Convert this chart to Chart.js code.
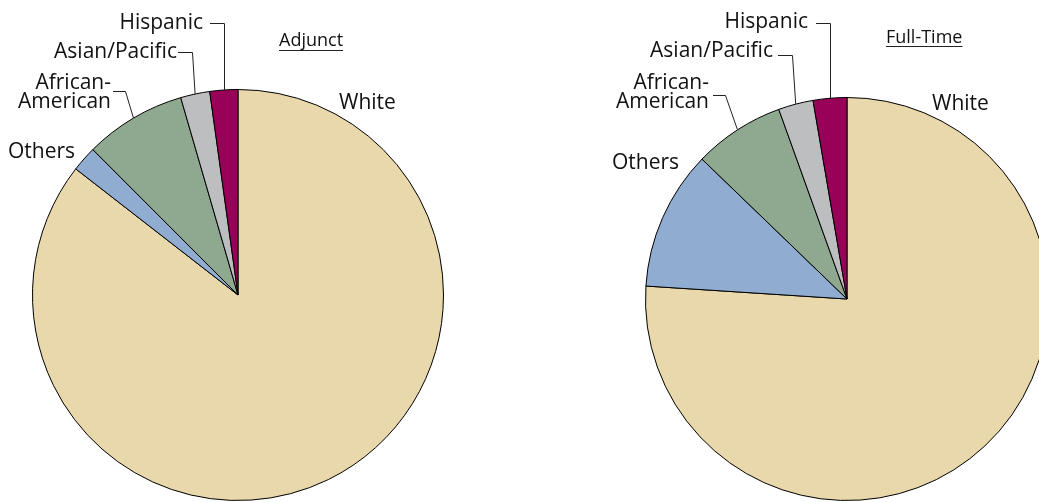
<!DOCTYPE html>
<html>
<head>
<meta charset="utf-8">
<script src="https://cdn.jsdelivr.net/npm/chart.js@4.4.1/dist/chart.umd.min.js"></script>
<style>
  html, body { margin: 0; padding: 0; background: #fff; width: 1039px; height: 502px; overflow: hidden; position: relative; }
  canvas { position: absolute; top: 0; }
  #adjunct { left: 0; }
  #fulltime { left: 520px; }
</style>
</head>
<body>
<canvas id="adjunct" width="520" height="520"></canvas>
<canvas id="fulltime" width="560" height="520"></canvas>
<script>
// shares in percent, read clockwise from 12 o'clock
const categories = ['White', 'Others', 'African-American', 'Asian/Pacific', 'Hispanic'];
const adjunctShares = [85.6, 2.0, 8.0, 2.3, 2.2];
const fullTimeShares = [76.1, 11.2, 7.3, 2.8, 2.7];
const sliceColors = ['#e8d8ab', '#90acd0', '#8fa990', '#bdbec0', '#990057'];

const TEXT_COLOR = '#111111';
const LABEL_FONT = '21px "Open Sans", sans-serif';
const TITLE_FONT = '18px "Open Sans", sans-serif';

// labels with elbow leaders that end on the middle of the slice's rim
const pieLabels = {
    id: 'pieLabels',
    afterDraw(chart, args, opts) {
        const ctx = chart.ctx;
        const arcs = chart.getDatasetMeta(0).data;
        ctx.save();
        ctx.fillStyle = TEXT_COLOR;
        ctx.strokeStyle = '#222222';
        ctx.lineWidth = 1;
        ctx.font = LABEL_FONT;
        ctx.textBaseline = 'alphabetic';

        opts.items.forEach(item => {
            const lines = item.text.split('\n');
            ctx.textAlign = item.align;
            lines.forEach((t, i) => ctx.fillText(t, item.x, item.y + i * 19));
            if (item.leader) {
                const arc = arcs[categories.indexOf(item.category)];
                const mid = (arc.startAngle + arc.endAngle) / 2;
                const ex = arc.x + Math.cos(mid) * arc.outerRadius;
                const ey = arc.y + Math.sin(mid) * arc.outerRadius;
                const [lx, ly, kx] = item.leader;
                const elbow = kx == null ? Math.round(ex) + 0.5 : kx;
                ctx.beginPath();
                ctx.moveTo(lx, ly);
                ctx.lineTo(elbow, ly);
                ctx.lineTo(kx == null ? elbow : ex, ey);
                ctx.stroke();
            }
        });

        // underlined panel title
        const t = opts.title;
        ctx.font = TITLE_FONT;
        ctx.textAlign = 'left';
        ctx.fillText(t.text, t.x, t.y);
        const w = ctx.measureText(t.text).width;
        ctx.beginPath();
        ctx.moveTo(t.x, t.underline);
        ctx.lineTo(t.x + w, t.underline);
        ctx.stroke();
        ctx.restore();
    }
};

function renderPie(canvasId, shares, padding, items, title) {
    const ctx = document.getElementById(canvasId).getContext('2d');
    return new Chart(ctx, {
        type: 'pie',
        data: {
            labels: categories,
            datasets: [{
                data: shares,
                backgroundColor: sliceColors,
                borderColor: '#000000',
                borderWidth: 1
            }]
        },
        options: {
            responsive: false,
            animation: false,
            events: [],
            layout: { padding: padding },
            plugins: {
                legend: { display: false },
                tooltip: { enabled: false },
                pieLabels: { items: items, title: title }
            }
        },
        plugins: [pieLabels]
    });
}

renderPie('adjunct', adjunctShares,
    { left: 32, top: 89, right: 76, bottom: 19 },
    [
        { category: 'Hispanic', text: 'Hispanic', align: 'right', x: 203, y: 29, leader: [210, 23.5, null] },
        { category: 'Asian/Pacific', text: 'Asian/Pacific', align: 'right', x: 177, y: 58, leader: [178, 52.5, 192.5] },
        { category: 'African-American', text: 'African-\nAmerican', align: 'right', x: 111, y: 89, leader: [113, 91.5, 125.5] },
        { category: 'Others', text: 'Others', align: 'left', x: 8, y: 158 },
        { category: 'White', text: 'White', align: 'left', x: 339, y: 109 }
    ],
    { text: 'Adjunct', x: 279, y: 46, underline: 50.5 }
);

renderPie('fulltime', fullTimeShares,
    { left: 125, top: 97, right: 31, bottom: 19 },
    [
        { category: 'Hispanic', text: 'Hispanic', align: 'right', x: 288, y: 28, leader: [296, 23.5, null] },
        { category: 'Asian/Pacific', text: 'Asian/Pacific', align: 'right', x: 253, y: 57, leader: [258, 55.5, 272.5] },
        { category: 'African-American', text: 'African-\nAmerican', align: 'right', x: 189, y: 89, leader: [193, 95.5, 205.5] },
        { category: 'Others', text: 'Others', align: 'left', x: 92, y: 169 },
        { category: 'White', text: 'White', align: 'left', x: 412, y: 110 }
    ],
    { text: 'Full-Time', x: 366, y: 43, underline: 46.5 }
);
</script>
</body>
</html>
